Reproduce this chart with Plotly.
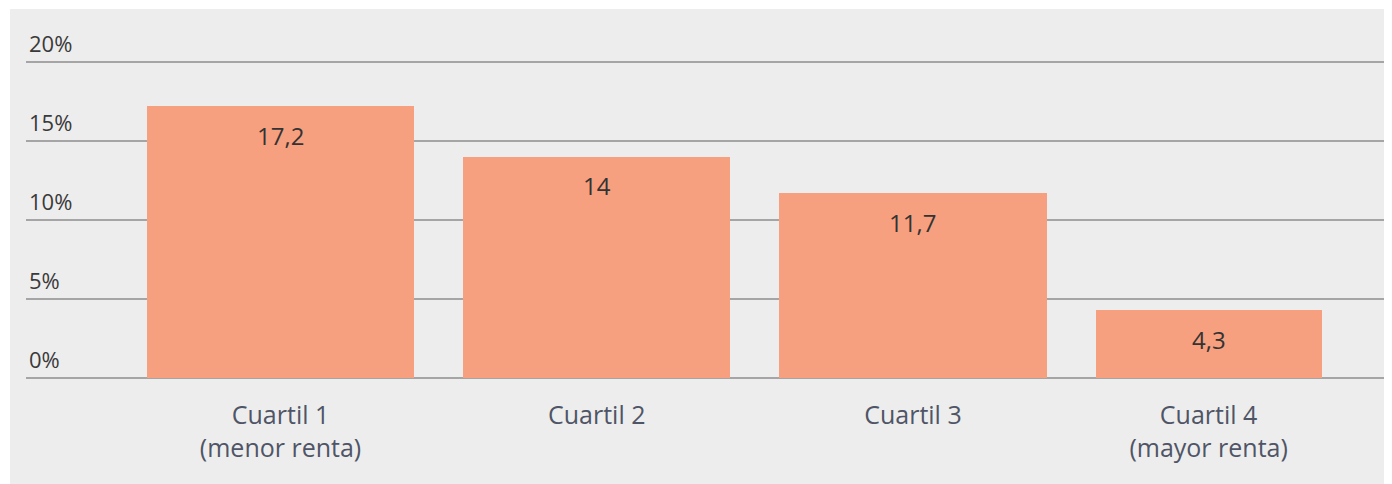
import plotly.graph_objects as go

categories = ["Cuartil 1<br>(menor renta)", "Cuartil 2", "Cuartil 3", "Cuartil 4<br>(mayor renta)"]
values = [17.2, 14, 11.7, 4.3]
tick_vals = [0, 5, 10, 15, 20]
tick_text = ["0%", "5%", "10%", "15%", "20%"]

bar_widths = [0.845, 0.845, 0.845, 0.715]
offset = -bar_widths[0] / 2
centers = [i + offset + w / 2 for i, w in enumerate(bar_widths)]
labels = [f"{v:g}".replace(".", ",") for v in values]

BG = "#ededed"
BAR = "#f7a07f"
# page body has an 8px default margin; figure sized to fill the rest
W, H = 1384, 476
ML, MR, MT, MB = 18, 0, 14, 106
pw, ph = W - ML - MR, H - MT - MB
y_top = 20 * ph / 316

fig = go.Figure()
fig.add_trace(go.Bar(
    x=centers, y=values, width=bar_widths,
    marker=dict(color=BAR, line=dict(width=0)),
    hoverinfo="skip",
))
for xc, v, t in zip(centers, values, labels):
    fig.add_annotation(x=xc, y=v, text=t, showarrow=False, yanchor="middle",
                       yshift=-29, font=dict(family="Open Sans", size=24, color="#333333"))

fig.add_shape(type="rect", xref="paper", yref="paper",
              x0=(2 - ML) / pw, x1=1.0, y0=-(MB) / ph, y1=(H - MB - 1) / ph,
              fillcolor=BG, line=dict(width=0), layer="below")

fig.update_layout(
    width=W, height=H,
    margin=dict(l=ML, r=MR, t=MT, b=MB, pad=0),
    paper_bgcolor="white", plot_bgcolor=BG,
    showlegend=False,
    bargap=0,
    xaxis=dict(range=[-0.805, 3.515], tickvals=centers, ticktext=categories,
               showgrid=False, zeroline=False, showline=False, ticks="",
               ticklabelstandoff=20,
               tickfont=dict(family="Open Sans", size=25, color="#4f5566")),
    yaxis=dict(range=[0, y_top], tickvals=tick_vals, ticktext=tick_text,
               ticklabelposition="inside top", ticklabelshift=-2,
               showgrid=True, gridcolor="#a5a5a5", gridwidth=1.5,
               zeroline=True, zerolinecolor="#a5a5a5", zerolinewidth=1.5,
               showline=False, ticks="",
               tickfont=dict(family="Open Sans", size=22, color="#3a3a3a")),
)
fig.write_html("out.html")
